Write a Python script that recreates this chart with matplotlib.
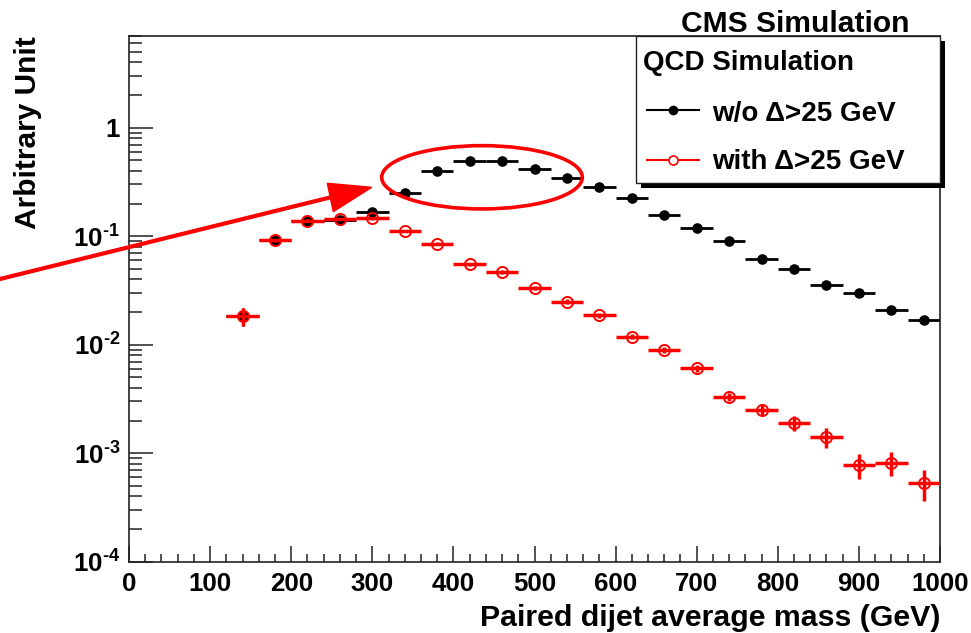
import numpy as np
import matplotlib
matplotlib.use("Agg")
import matplotlib.pyplot as plt
from matplotlib.lines import Line2D
from matplotlib.patches import Rectangle, Ellipse, Polygon
from matplotlib.ticker import MultipleLocator, LogLocator, FuncFormatter

plt.rcParams['font.family'] = ['Liberation Sans', 'DejaVu Sans']
plt.rcParams['font.weight'] = 'bold'
plt.rcParams['mathtext.fontset'] = 'custom'
plt.rcParams['mathtext.rm'] = 'Liberation Sans:bold'
plt.rcParams['mathtext.it'] = 'Liberation Sans:bold'
plt.rcParams['mathtext.bf'] = 'Liberation Sans:bold'

# bin centres (GeV), bins 40 GeV wide
mass = [140, 180, 220, 260, 300, 340, 380, 420, 460, 500, 540,
        580, 620, 660, 700, 740, 780, 820, 860, 900, 940, 980]
half_width = 20

# without the Delta cut
wo_cut = [0.0185, 0.092, 0.139, 0.142, 0.167, 0.252, 0.40, 0.493, 0.493, 0.414, 0.346,
          0.286, 0.225, 0.157, 0.120, 0.090, 0.062, 0.050, 0.0355, 0.0298, 0.021, 0.0169]
wo_err = [0.0035, 0.003, 0.004, 0.004, 0.004, 0.004, 0.005, 0.005, 0.005, 0.005, 0.004,
          0.004, 0.003, 0.003, 0.002, 0.002, 0.0015, 0.0012, 0.001, 0.0009, 0.0007, 0.0006]

# with the Delta > 25 GeV cut
with_cut = [0.0185, 0.092, 0.139, 0.144, 0.146, 0.112, 0.085, 0.055, 0.047, 0.033, 0.025,
            0.0187, 0.0119, 0.0089, 0.00605, 0.00332, 0.0025, 0.00191, 0.00142, 0.00078, 0.00082, 0.000535]
with_err = [0.0035, 0.003, 0.004, 0.004, 0.004, 0.003, 0.0025, 0.002, 0.0018, 0.0014, 0.0012,
            0.001, 0.0007, 0.0006, 0.0005, 0.0003, 0.00026, 0.0003, 0.0003, 0.0002, 0.0002, 0.00017]

W, H = 971, 633


def fx(px):
    return px / W


def fy(py):
    return 1 - py / H


fig = plt.figure(figsize=(9.71, 6.33), dpi=100)
ax = fig.add_axes([fx(129), fy(561.7), fx(940) - fx(129), fy(36) - fy(561.7)])

ax.errorbar(mass, wo_cut, xerr=half_width, yerr=wo_err, fmt='o', color='black',
            ms=6.6, lw=2.0, capsize=0, zorder=3)
ax.errorbar(mass, with_cut, xerr=half_width, yerr=with_err, fmt='o', color='red',
            mfc='none', mec='red', mew=1.4, ms=8.0, lw=2.5, capsize=0, zorder=4)

ax.set_yscale('log')
ax.set_xlim(0, 1000)
ax.set_ylim(1e-4, 7.0)

ax.xaxis.set_major_locator(MultipleLocator(100))
ax.xaxis.set_minor_locator(MultipleLocator(20))
ax.yaxis.set_major_locator(LogLocator(base=10, numticks=10))
ax.yaxis.set_minor_locator(LogLocator(base=10, subs=np.arange(2, 10), numticks=20))


def ylab(v, pos):
    e = int(round(np.log10(v)))
    if e == 0:
        return "1"
    return r"$10^{\text{-}%d}$" % (-e)


ax.yaxis.set_major_formatter(FuncFormatter(ylab))
ax.yaxis.set_minor_formatter(FuncFormatter(lambda v, p: ""))

ax.tick_params(axis='both', which='both', direction='in', top=False, right=False,
               labelsize=18.6, color='#222222')
ax.tick_params(axis='y', which='major', length=17.3, width=1.1, pad=6.5)
ax.tick_params(axis='y', which='minor', length=9.4, width=1.1)
ax.tick_params(axis='x', which='major', length=11.3, width=1.1, pad=7.2)
ax.tick_params(axis='x', which='minor', length=5.8, width=1.1)
for s in ax.spines.values():
    s.set_linewidth(1.2)
    s.set_color('#222222')
for lab in ax.get_xticklabels() + ax.get_yticklabels():
    lab.set_fontweight('bold')

# titles
fig.text(fx(28.5), fy(36), "Arbitrary Unit", rotation=90, ha='center', va='top',
         fontsize=21.5, fontweight='bold')
fig.text(fx(940), fy(626), "Paired dijet average mass (GeV)", ha='right', va='baseline',
         fontsize=21.8, fontweight='bold')
fig.text(fx(795.5), fy(31.7), "CMS Simulation", ha='center', va='baseline',
         fontsize=21.6, fontweight='bold')

# legend box with shadow
fig.add_artist(Rectangle((fx(641), fy(188)), fx(940) - fx(636), fy(36) - fy(183),
                         transform=fig.transFigure, facecolor='black', edgecolor='none', zorder=5))
fig.add_artist(Rectangle((fx(636), fy(183)), fx(940) - fx(636), fy(36) - fy(183),
                         transform=fig.transFigure, facecolor='white', edgecolor='#222222',
                         lw=1.0, zorder=6))
fig.text(fx(643), fy(70), "QCD Simulation", ha='left', va='baseline',
         fontsize=20, fontweight='bold', zorder=7)
fig.add_artist(Line2D([fx(647), fx(699)], [fy(110), fy(110)], transform=fig.transFigure,
                      color='black', lw=1.5, zorder=7))
fig.add_artist(Line2D([fx(673)], [fy(110)], transform=fig.transFigure, marker='o',
                      color='black', ms=6.0, zorder=8))
fig.text(fx(712), fy(120.5), "w/o Δ>25 GeV", ha='left', va='baseline',
         fontsize=20, fontweight='bold', zorder=7)
fig.add_artist(Line2D([fx(647), fx(699)], [fy(160), fy(160)], transform=fig.transFigure,
                      color='red', lw=1.5, zorder=7))
fig.add_artist(Line2D([fx(673)], [fy(160)], transform=fig.transFigure, marker='o',
                      color='red', mfc='white', mew=1.2, ms=6.5, zorder=8))
fig.text(fx(712), fy(169.5), "with Δ>25 GeV", ha='left', va='baseline',
         fontsize=20, fontweight='bold', zorder=7)

# red annotation: arrow and ellipse
fig.add_artist(Line2D([fx(0), fx(340)], [fy(279), fy(195)], transform=fig.transFigure,
                      color='red', lw=3.0, zorder=6))
fig.add_artist(Polygon([(fx(371.7), fy(187.3)), (fx(327.3), fy(183.3)), (fx(333.3), fy(211.7))],
                       closed=True, transform=fig.transFigure, facecolor='red',
                       edgecolor='red', zorder=6))
fig.add_artist(Ellipse((fx(482), fy(177.3)), fx(200.6) - fx(0), fy(0) - fy(63.3),
                       transform=fig.transFigure, facecolor='none', edgecolor='red',
                       lw=2.6, zorder=6))

fig.savefig("out.png", dpi=100)
